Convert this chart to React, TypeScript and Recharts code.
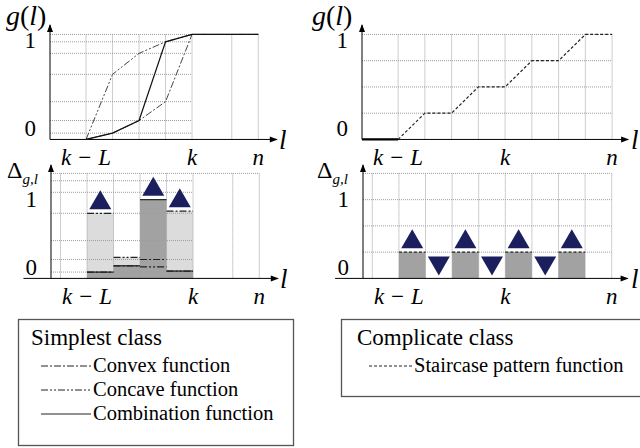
import React from "react";
import {
  ComposedChart,
  XAxis,
  YAxis,
  Line,
  Scatter,
  ReferenceLine,
  ReferenceArea,
  ReferenceDot,
} from "recharts";

// l positions: k-L = 0, k = 4
const simpleL = [0, 1, 2, 3, 4, 6.5];
const convex = [0, 0.06, 0.18, 0.36, 1, 1];
const concave = [0, 0.62, 0.82, 0.93, 1, 1];
const combination = [0, 0.06, 0.18, 0.93, 1, 1];

const stairL = [0, 1, 2, 3, 4, 5, 6, 7, 8];
const staircase = [0, 0.25, 0.25, 0.5, 0.5, 0.75, 0.75, 1, 1];

const simpleTicks = [0, 4, 6.5];
const stairTicks = [0, 4, 8];
const tickLabels = ["k − L", "k", "n"];
const yTicks = [0, 1];

const SERIF = '"Liberation Serif", "Times New Roman", serif';
const GRID = "#9c9c9c";
const NAVY = "#1c1f5e";
const LIGHT = "#dcdcdc";
const DARK = "#a2a2a2";

const CONVEX_DASH = "7 2 2 2";
const CONCAVE_DASH = "7 2 2 2 2 2";
const STAIR_DASH = "3 2";

const toPoints = (ls: number[], gs: number[]) => ls.map((l, i) => ({ l, g: gs[i] }));

// increments over [l, l+1]
const deltas = (gs: number[], count: number) =>
  gs.slice(0, count).map((g, i) => +(gs[i + 1] - g).toFixed(3));

const convexDelta = deltas(convex, 4);
const concaveDelta = deltas(concave, 4);
const combinationDelta = deltas(combination, 4);
const stairDelta = deltas(staircase, 7);

const V = 105; // px per unit of g

type Geometry = {
  left: number; // page x of l = 0
  unit: number;
  xMin: number;
  xMax: number;
  axisY: number; // page y of g = 0
  yMax: number;
};

const YW = 50;
const MT = 8;
const MR = 20;
const XH = 36;

const serifText = { fontFamily: SERIF };

function Panel({
  geo,
  ticks,
  oneOffset,
  children,
}: {
  geo: Geometry;
  ticks: number[];
  oneOffset: number;
  children: React.ReactNode;
}) {
  const plotLeft = geo.left + geo.xMin * geo.unit;
  const plotW = (geo.xMax - geo.xMin) * geo.unit;
  const plotH = geo.yMax * V;
  const plotTop = geo.axisY - plotH;
  const width = YW + plotW + MR;
  const height = MT + plotH + XH;

  return (
    <div style={{ position: "absolute", left: plotLeft - YW, top: plotTop - MT }}>
      <ComposedChart width={width} height={height} margin={{ top: MT, right: MR, bottom: 0, left: 0 }}>
        <XAxis
          type="number"
          dataKey="l"
          domain={[geo.xMin, geo.xMax]}
          allowDataOverflow
          ticks={ticks}
          interval={0}
          axisLine={false}
          tickLine={false}
          tickSize={0}
          tickMargin={0}
          height={XH}
          tick={(p: any) => (
            <text
              x={p.x}
              y={p.y + 26}
              textAnchor="middle"
              style={{ ...serifText, fontStyle: "italic", fontSize: 23 }}
              fill="#000"
            >
              {tickLabels[ticks.indexOf(p.payload.value)]}
            </text>
          )}
        />
        <YAxis
          type="number"
          dataKey="g"
          domain={[0, geo.yMax]}
          allowDataOverflow
          ticks={yTicks}
          interval={0}
          axisLine={false}
          tickLine={false}
          tickSize={0}
          tickMargin={0}
          width={YW}
          tick={(p: any) => (
            <text
              x={p.x - 14}
              y={p.y + (p.payload.value === 1 ? oneOffset : -3)}
              textAnchor="end"
              style={{ ...serifText, fontSize: 23 }}
              fill="#000"
            >
              {p.payload.value}
            </text>
          )}
        />
        {children}
      </ComposedChart>
    </div>
  );
}

const gridV = (xs: number[], top: number) =>
  xs.map((x) => (
    <ReferenceLine
      key={`v${x}`}
      segment={[
        { x, y: 0 },
        { x, y: top },
      ]}
      stroke={GRID}
      strokeDasharray="1 1"
    />
  ));

const gridH = (ys: number[], x0: number, x1: number) =>
  ys.map((y) => (
    <ReferenceLine
      key={`h${y}-${x1}`}
      segment={[
        { x: x0, y },
        { x: x1, y },
      ]}
      stroke={GRID}
      strokeDasharray="1 1"
    />
  ));

const arrowRight = (p: any) => (
  <polygon points={`${p.cx + 1},${p.cy} ${p.cx - 7},${p.cy - 3} ${p.cx - 7},${p.cy + 3}`} fill="#000" />
);
const arrowUp = (p: any) => (
  <polygon points={`${p.cx},${p.cy - 1} ${p.cx - 3},${p.cy + 7} ${p.cx + 3},${p.cy + 7}`} fill="#000" />
);

const axes = (geo: Geometry, xStart: number) => [
  <ReferenceLine
    key="xa"
    segment={[
      { x: xStart, y: 0 },
      { x: geo.xMax, y: 0 },
    ]}
    stroke="#000"
    ifOverflow="visible"
  />,
  <ReferenceLine
    key="ya"
    segment={[
      { x: geo.xMin, y: 0 },
      { x: geo.xMin, y: geo.yMax },
    ]}
    stroke="#000"
    ifOverflow="visible"
  />,
  <ReferenceDot key="xr" x={geo.xMax} y={0} shape={arrowRight} ifOverflow="visible" />,
  <ReferenceDot key="yr" x={geo.xMin} y={geo.yMax} shape={arrowUp} ifOverflow="visible" />,
];

const upTriangle = (p: any) => (
  <polygon
    points={`${p.cx - 11},${p.cy - 4} ${p.cx + 11},${p.cy - 4} ${p.cx},${p.cy - 23}`}
    fill={NAVY}
  />
);
const downTriangle = (p: any) => (
  <polygon
    points={`${p.cx - 11},${p.cy - 22} ${p.cx + 11},${p.cy - 22} ${p.cx},${p.cy - 3}`}
    fill={NAVY}
  />
);

const leftTop: Geometry = { left: 86, unit: 26.5, xMin: -1.36, xMax: 7.2, axisY: 139, yMax: 1.09 };
const leftBottom: Geometry = { left: 87, unit: 26.5, xMin: -1.36, xMax: 7.2, axisY: 278, yMax: 1.08 };
const rightTop: Geometry = { left: 398, unit: 26.75, xMin: -1.35, xMax: 8.6, axisY: 139, yMax: 1.09 };
const rightBottom: Geometry = { left: 399, unit: 26.6, xMin: -1.35, xMax: 8.6, axisY: 278, yMax: 1.08 };

const simpleLevels = Array.from(
  new Set([...convex, ...concave, ...combination].filter((g) => g > 0 && g < 1))
);

const simpleBars = [
  { data: concaveDelta, fill: LIGHT, dash: CONCAVE_DASH },
  { data: convexDelta, fill: LIGHT, dash: CONVEX_DASH },
  { data: combinationDelta, fill: DARK, dash: undefined },
];

// a marker sits over every interval where some function rises by a visible step
const simpleRises = convexDelta
  .map((_, i) => ({
    l: i + 0.5,
    g: Math.max(convexDelta[i], concaveDelta[i], combinationDelta[i]),
  }))
  .filter((d) => d.g > 0.3);

const stairRises = stairDelta
  .map((d, i) => ({ l: i + 0.5, g: d }))
  .filter((d) => d.g > 0);
const stairFlats = stairDelta
  .map((d, i) => ({ l: i + 0.5, g: d }))
  .filter((d) => d.g === 0);

const simpleLegend = [
  { name: "Convex function", dash: CONVEX_DASH },
  { name: "Concave function", dash: CONCAVE_DASH },
  { name: "Combination function", dash: undefined },
];
const stairLegend = [{ name: "Staircase pattern function", dash: STAIR_DASH }];

function LegendBox({
  x,
  y,
  w,
  h,
  title,
  items,
  titleX,
  sampleX,
  sampleW,
}: {
  x: number;
  y: number;
  w: number;
  h: number;
  title: string;
  items: { name: string; dash?: string }[];
  titleX: number;
  sampleX: number;
  sampleW: number;
}) {
  return (
    <g>
      <rect x={x + 0.5} y={y + 0.5} width={w} height={h} fill="#fff" stroke="#555" strokeWidth={1.3} />
      <text x={titleX} y={y + 26} style={{ ...serifText, fontSize: 23 }} fill="#000">
        {title}
      </text>
      {items.map((it, i) => {
        const base = y + 53 + i * 24;
        return (
          <g key={it.name}>
            <line
              x1={sampleX}
              y1={base - 6}
              x2={sampleX + sampleW}
              y2={base - 6}
              stroke="#222"
              strokeWidth={1}
              strokeDasharray={it.dash}
            />
            <text x={sampleX + sampleW + 2} y={base} style={{ ...serifText, fontSize: 20.5 }} fill="#000">
              {it.name}
            </text>
          </g>
        );
      })}
    </g>
  );
}

export default function App() {
  return (
    <div
      style={{
        position: "absolute",
        left: 0,
        top: 0,
        width: 640,
        height: 448,
        overflow: "hidden",
        background: "#fff",
        fontFamily: SERIF,
      }}
    >
      {/* g(l) for the simplest class */}
      <Panel geo={leftTop} ticks={simpleTicks} oneOffset={14}>
        {gridV([0, 1, 2, 3, 4, 5.5, 6.5], 1)}
        {gridH(simpleLevels, leftTop.xMin, 4)}
        {gridH([1], leftTop.xMin, 6.5)}
        {axes(leftTop, leftTop.xMin)}
        <Line data={toPoints(simpleL, convex)} dataKey="g" stroke="#444" strokeWidth={1} strokeDasharray={CONVEX_DASH} dot={false} isAnimationActive={false} />
        <Line data={toPoints(simpleL, concave)} dataKey="g" stroke="#444" strokeWidth={1} strokeDasharray={CONCAVE_DASH} dot={false} isAnimationActive={false} />
        <Line data={toPoints(simpleL, combination)} dataKey="g" stroke="#111" strokeWidth={1.2} dot={false} isAnimationActive={false} />
      </Panel>

      {/* increments of the simplest class */}
      <Panel geo={leftBottom} ticks={simpleTicks} oneOffset={34}>
        {simpleBars.flatMap((s, si) =>
          s.data.map((d, i) => (
            <ReferenceArea key={`a${si}-${i}`} x1={i} x2={i + 1} y1={0} y2={d} fill={s.fill} fillOpacity={1} stroke="none" />
          ))
        )}
        {gridV([-1, 0, 1, 2, 3, 4, 5.5, 6.5], 1)}
        {gridH(simpleLevels, leftBottom.xMin, 4)}
        {gridH([1], leftBottom.xMin, 6.5)}
        {simpleBars.flatMap((s, si) =>
          s.data.map((d, i) => (
            <ReferenceLine
              key={`t${si}-${i}`}
              segment={[
                { x: i, y: d },
                { x: i + 1, y: d },
              ]}
              stroke="#222"
              strokeWidth={1.2}
              strokeDasharray={s.dash}
            />
          ))
        )}
        {axes(leftBottom, -2.4)}
        <Scatter data={simpleRises} dataKey="g" shape={upTriangle} isAnimationActive={false} />
      </Panel>

      {/* g(l) for the complicate class */}
      <Panel geo={rightTop} ticks={stairTicks} oneOffset={14}>
        {gridV(stairL, 1)}
        {gridH([0.25, 0.5, 0.75, 1], rightTop.xMin, 8)}
        {axes(rightTop, rightTop.xMin)}
        <ReferenceLine
          segment={[
            { x: rightTop.xMin, y: 0 },
            { x: 0, y: 0 },
          ]}
          stroke="#000"
          strokeWidth={2.2}
        />
        <Line data={toPoints(stairL, staircase)} dataKey="g" stroke="#222" strokeWidth={1.2} strokeDasharray={STAIR_DASH} dot={false} isAnimationActive={false} />
      </Panel>

      {/* increments of the complicate class */}
      <Panel geo={rightBottom} ticks={stairTicks} oneOffset={34}>
        {stairDelta.map((d, i) =>
          d > 0 ? (
            <ReferenceArea key={`s${i}`} x1={i} x2={i + 1} y1={0} y2={d} fill={DARK} fillOpacity={1} stroke="none" />
          ) : null
        )}
        {gridV([-1, ...stairL], 1)}
        {gridH([0.25, 0.5, 0.75, 1], rightBottom.xMin, 8)}
        {stairDelta.map((d, i) =>
          d > 0 ? (
            <ReferenceLine
              key={`st${i}`}
              segment={[
                { x: i, y: d },
                { x: i + 1, y: d },
              ]}
              stroke="#222"
              strokeWidth={1.2}
              strokeDasharray={STAIR_DASH}
            />
          ) : null
        )}
        {axes(rightBottom, -2.4)}
        <Scatter data={stairRises} dataKey="g" shape={upTriangle} isAnimationActive={false} />
        <Scatter data={stairFlats} dataKey="g" shape={downTriangle} isAnimationActive={false} />
      </Panel>

      {/* axis titles and legends */}
      <svg width={640} height={448} style={{ position: "absolute", left: 0, top: 0, pointerEvents: "none" }}>
        <text x={6} y={25} style={{ ...serifText, fontSize: 28 }} fill="#000">
          <tspan fontStyle="italic">g</tspan>(<tspan fontStyle="italic">l</tspan>)
        </text>
        <text x={312} y={25} style={{ ...serifText, fontSize: 28 }} fill="#000">
          <tspan fontStyle="italic">g</tspan>(<tspan fontStyle="italic">l</tspan>)
        </text>
        <text x={7} y={178} style={{ ...serifText, fontSize: 24 }} fill="#000">
          Δ<tspan fontSize={15} fontStyle="italic" dy={6}>g,l</tspan>
        </text>
        <text x={317} y={178} style={{ ...serifText, fontSize: 24 }} fill="#000">
          Δ<tspan fontSize={15} fontStyle="italic" dy={6}>g,l</tspan>
        </text>
        <text x={279} y={149} style={{ ...serifText, fontSize: 27, fontStyle: "italic" }} fill="#000">l</text>
        <text x={631} y={149} style={{ ...serifText, fontSize: 27, fontStyle: "italic" }} fill="#000">l</text>
        <text x={280} y={288} style={{ ...serifText, fontSize: 27, fontStyle: "italic" }} fill="#000">l</text>
        <text x={631} y={288} style={{ ...serifText, fontSize: 27, fontStyle: "italic" }} fill="#000">l</text>

        <LegendBox
          x={18}
          y={319}
          w={275}
          h={126}
          title="Simplest class"
          items={simpleLegend}
          titleX={31}
          sampleX={41}
          sampleW={50}
        />
        <LegendBox
          x={341}
          y={319}
          w={320}
          h={77}
          title="Complicate class"
          items={stairLegend}
          titleX={357}
          sampleX={369}
          sampleW={43}
        />
      </svg>
    </div>
  );
}
